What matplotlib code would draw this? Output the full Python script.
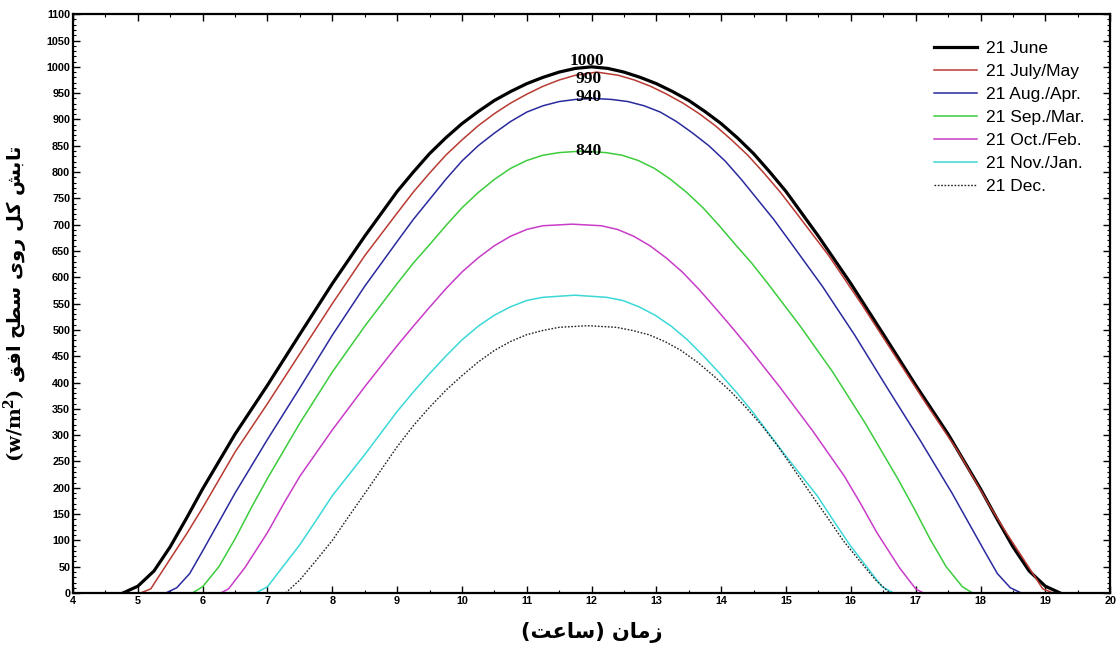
import matplotlib
matplotlib.use("Agg")
import matplotlib.pyplot as plt
from matplotlib.ticker import MultipleLocator

plt.rcParams['font.family'] = ['Liberation Sans', 'DejaVu Sans']
plt.rcParams['mathtext.fontset'] = 'dejavuserif'

# Hour of day and total irradiance on a horizontal surface (W/m2) for each 21st
june_t = [4.77, 5.0, 5.25, 5.5, 5.75, 6.0, 6.5, 7.0, 7.5, 8.0, 8.5, 9.0, 9.25, 9.5, 9.75, 10.0, 10.25,
          10.5, 10.75, 11.0, 11.25, 11.5, 11.75, 12.0, 12.25, 12.5, 12.75, 13.0, 13.25, 13.5, 13.75,
          14.0, 14.25, 14.5, 14.75, 15.0, 15.5, 16.0, 16.5, 17.0, 17.5, 18.0, 18.25, 18.5, 18.75,
          19.0, 19.23]
june_v = [0, 13, 42, 88, 142, 198, 302, 395, 492, 588, 678, 763, 800, 835, 865, 892, 915,
          936, 953, 968, 980, 990, 997, 1000, 997, 990, 980, 968, 953, 936, 915,
          892, 865, 835, 800, 763, 678, 588, 492, 395, 302, 198, 142, 88, 42,
          13, 0]

julmay_t = [5.04, 5.2, 5.5, 5.75, 6.0, 6.5, 7.0, 7.5, 8.0, 8.5, 9.0, 9.25, 9.5, 9.75, 10.0, 10.25,
            10.5, 10.75, 11.0, 11.25, 11.5, 11.75, 12.08, 12.41, 12.66, 12.91, 13.16, 13.41, 13.66,
            13.91, 14.16, 14.41, 14.66, 14.91, 15.16, 15.66, 16.16, 16.66, 17.16, 17.66, 18.16,
            18.41, 18.66, 18.96, 19.12]
julmay_v = [0, 8, 65, 112, 162, 268, 360, 455, 550, 641, 722, 762, 798, 832, 861, 888,
            911, 931, 948, 963, 975, 984, 990, 984, 975, 963, 948, 931, 911,
            888, 861, 832, 798, 762, 722, 641, 550, 455, 360, 268, 162,
            112, 65, 8, 0]

augapr_t = [5.43, 5.6, 5.8, 6.0, 6.25, 6.5, 7.0, 7.5, 8.0, 8.5, 9.0, 9.25, 9.5, 9.75, 10.0, 10.25,
            10.5, 10.75, 11.0, 11.25, 11.5, 11.75, 12.03, 12.31, 12.56, 12.81, 13.06, 13.31, 13.56,
            13.81, 14.06, 14.31, 14.56, 14.81, 15.06, 15.56, 16.06, 16.56, 17.06, 17.56, 17.81,
            18.06, 18.26, 18.46, 18.63]
augapr_v = [0, 10, 37, 80, 135, 190, 292, 390, 490, 583, 668, 710, 748, 786, 821, 850,
            874, 896, 914, 926, 934, 938, 940, 938, 934, 926, 914, 896, 874,
            850, 821, 786, 748, 710, 668, 583, 490, 390, 292, 190, 135,
            80, 37, 10, 0]

sepmar_t = [5.84, 6.0, 6.25, 6.5, 6.75, 7.0, 7.5, 8.0, 8.5, 9.0, 9.25, 9.5, 9.75, 10.0, 10.25,
            10.5, 10.75, 11.0, 11.25, 11.5, 11.86, 12.22, 12.47, 12.72, 12.97, 13.22, 13.47,
            13.72, 13.97, 14.22, 14.47, 14.72, 15.22, 15.72, 16.22, 16.72, 16.97, 17.22, 17.47,
            17.72, 17.88]
sepmar_v = [0, 12, 50, 103, 162, 218, 323, 420, 507, 588, 627, 662, 698, 732, 761,
            786, 807, 822, 832, 837, 840, 837, 832, 822, 807, 786, 761,
            732, 698, 662, 627, 588, 507, 420, 323, 218, 162, 103, 50,
            12, 0]

octfeb_t = [6.28, 6.4, 6.65, 7.0, 7.25, 7.5, 8.0, 8.5, 9.0, 9.25, 9.5, 9.75, 10.0, 10.25, 10.5,
            10.75, 11.0, 11.25, 11.7, 12.15, 12.4, 12.65, 12.9, 13.15, 13.4, 13.65, 13.9, 14.15,
            14.4, 14.9, 15.4, 15.9, 16.15, 16.4, 16.75, 17.0, 17.12]
octfeb_v = [0, 8, 48, 115, 170, 222, 310, 392, 470, 507, 543, 578, 610, 637, 660,
            678, 691, 698, 701, 698, 691, 678, 660, 637, 610, 578, 543, 507,
            470, 392, 310, 222, 170, 115, 48, 8, 0]

novjan_t = [6.82, 7.0, 7.25, 7.5, 7.75, 8.0, 8.5, 9.0, 9.25, 9.5, 9.75, 10.0, 10.25, 10.5, 10.75,
            11.0, 11.25, 11.74, 12.23, 12.48, 12.73, 12.98, 13.23, 13.48, 13.73, 13.98, 14.23,
            14.48, 14.98, 15.48, 15.73, 15.98, 16.23, 16.48, 16.66]
novjan_v = [0, 12, 52, 92, 138, 185, 263, 345, 382, 417, 450, 481, 507, 528, 544,
            556, 562, 566, 562, 556, 544, 528, 507, 481, 450, 417, 382,
            345, 263, 185, 138, 92, 52, 12, 0]

dec_t = [7.28, 7.5, 7.75, 8.0, 8.25, 8.5, 9.0, 9.25, 9.5, 9.75, 10.0, 10.25, 10.5, 10.75, 11.0,
         11.25, 11.5, 11.94, 12.38, 12.63, 12.88, 13.13, 13.38, 13.63, 13.88, 14.13, 14.38,
         14.63, 14.88, 15.38, 15.63, 15.88, 16.13, 16.38, 16.6]
dec_v = [0, 25, 62, 100, 145, 189, 278, 318, 353, 385, 413, 439, 461, 478, 491,
         499, 505, 508, 505, 499, 491, 478, 461, 439, 413, 385, 353,
         318, 278, 189, 145, 100, 62, 25, 0]

series_labels = ['21 June', '21 July/May', '21 Aug./Apr.', '21 Sep./Mar.',
                 '21 Oct./Feb.', '21 Nov./Jan.', '21 Dec.']
peak_labels = ['1000', '990', '940', '840']
peak_label_x = [11.93, 11.95, 11.95, 11.95]
peak_label_y = [1012, 977, 943, 840]

fig = plt.figure(figsize=(11.2, 6.46), dpi=100)
ax = fig.add_axes([0.0652, 0.082, 0.926, 0.896])

ax.plot(june_t, june_v, color='black', lw=2.3, label=series_labels[0])
ax.plot(julmay_t, julmay_v, color='#b83a32', lw=1.1, label=series_labels[1])
ax.plot(augapr_t, augapr_v, color='#2a2a9e', lw=1.1, label=series_labels[2])
ax.plot(sepmar_t, sepmar_v, color='#3ccc3c', lw=1.1, label=series_labels[3])
ax.plot(octfeb_t, octfeb_v, color='#c83cc8', lw=1.1, label=series_labels[4])
ax.plot(novjan_t, novjan_v, color='#3cd8d8', lw=1.1, label=series_labels[5])
ax.plot(dec_t, dec_v, color='#222222', lw=1.0, ls=(0, (1.2, 1.2)), label=series_labels[6])

for s, x, y in zip(peak_labels, peak_label_x, peak_label_y):
    ax.text(x, y, s, ha='center', va='center', fontsize=12.5,
            family='Liberation Serif', fontweight='bold', color='black')

ax.set_xlim(4, 20)
ax.set_ylim(0, 1100)
ax.xaxis.set_major_locator(MultipleLocator(1))
ax.xaxis.set_minor_locator(MultipleLocator(0.5))
ax.yaxis.set_major_locator(MultipleLocator(50))
ax.yaxis.set_minor_locator(MultipleLocator(10))
ax.tick_params(which='both', direction='in', top=True, right=True)
ax.tick_params(which='major', length=5, width=1.0, labelsize=7.8, pad=2)
ax.tick_params(which='minor', length=2.5, width=0.8)
for lbl in ax.get_xticklabels() + ax.get_yticklabels():
    lbl.set_fontweight('bold')
for sp in ax.spines.values():
    sp.set_linewidth(1.6)

# Persian labels written in visual (left-to-right) order with contextual forms
xlabel = '(\uFE96\uFECB\uFE8E\uFEB3) \uFEE5\uFE8E\uFEE3\uFEAF'
ax.set_xlabel(xlabel, fontsize=15, fontweight='bold', family=['DejaVu Sans'], labelpad=12)

ylabel_fa = ('\uFED6\uFED3\uFE8D \uFEA2\uFEC4\uFEB3 \uFBFC\uFEED\uFEAD '
             '\uFEDE\uFB90 \uFEB6\uFE91\uFE8E\uFE97')
ax.set_ylabel(r'$\mathbf{(w/}\mathit{\mathbf{m}}^{\mathbf{2}}\mathbf{)}$ ' + ylabel_fa,
              fontsize=14, fontweight='bold', family=['DejaVu Sans'], labelpad=12)

leg = ax.legend(loc='upper left', bbox_to_anchor=(0.83, 0.954), frameon=False,
                fontsize=12.5, handlelength=2.5, labelspacing=0.45,
                borderpad=0, borderaxespad=0, handletextpad=0.5)

fig.savefig('out.png', dpi=100)
